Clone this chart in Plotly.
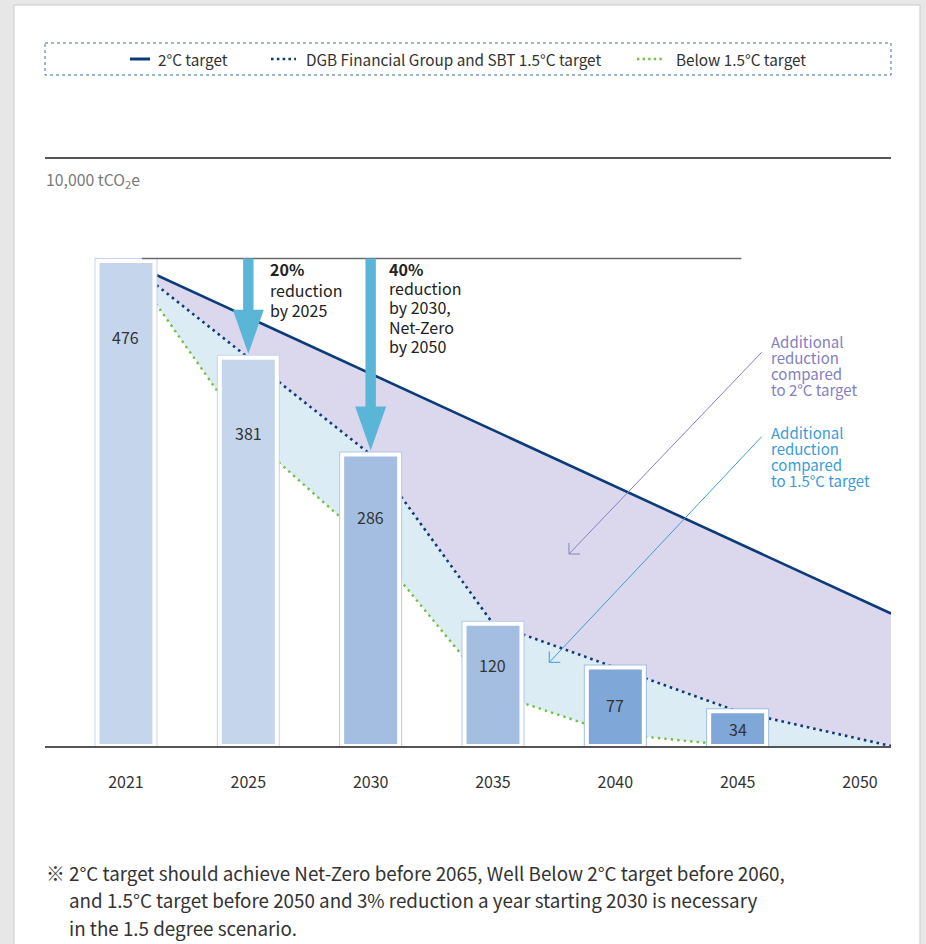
import plotly.graph_objects as go

# ---------------------------------------------------------------- data
YEARS = ["2021", "2025", "2030", "2035", "2040", "2045", "2050"]
EMISSIONS = [476, 381, 286, 120, 77, 34]          # DGB Financial Group path (10,000 tCO2e)
BAR_FILL = ["#c5d5ec", "#c5d5ec", "#a3bee1", "#a3bee1", "#7fa7d8", "#7fa7d8"]
BAR_RING = ["#c3d4ec", "#c3d4ec", "#b3c9e7", "#b3c9e7", "#a2bde3", "#a2bde3"]

TWO_DEG_POS = [0, 6.2536]                          # straight 2°C pathway
TWO_DEG = [476, 130]
DGB_POS = [0, 1, 2, 3, 4, 5, 6.2536]               # DGB & SBT 1.5°C pathway, net-zero at 2050
DGB = [476, 381, 286, 120, 77, 34, 0]
BELOW_POS = [0, 1, 2, 3, 4, 5]                     # below 1.5°C pathway
BELOW = [476, 305, 198, 52, 12, 0]

# ---------------------------------------------------------------- geometry / style
W, H = 926, 944
L, R, T, B = 45, 891, 159, 746                     # plot area in page pixels
X_RANGE = [-0.6621, 6.2536]
PX_PER_UNIT = 1.019
Y_RANGE = [0, (B - T) / PX_PER_UNIT]
FONT = "Noto Sans CJK KR"
NAVY = "#0d3b7a"
GREEN = "#74bf45"
ARROW = "#5bb5d7"
LAVENDER = "#dbd8ed"
ICE = "#dcecf5"


def px(x):
    return (x - L) / (R - L)


def py(y):
    return (B - y) / (B - T)


fig = go.Figure()

# scenario bands (lower boundary first, then fill up to each next line)
fig.add_trace(go.Scatter(x=BELOW_POS + [X_RANGE[1]], y=BELOW + [0], mode="lines",
                         line=dict(width=0), hoverinfo="skip", showlegend=False))
fig.add_trace(go.Scatter(x=DGB_POS, y=DGB, mode="lines", line=dict(width=0),
                         fill="tonexty", fillcolor=ICE, hoverinfo="skip", showlegend=False))
fig.add_trace(go.Scatter(x=TWO_DEG_POS, y=TWO_DEG, mode="lines", line=dict(width=0),
                         fill="tonexty", fillcolor=LAVENDER, hoverinfo="skip", showlegend=False))

# scenario lines
fig.add_trace(go.Scatter(x=TWO_DEG_POS, y=TWO_DEG, mode="lines", name="2°C target",
                         line=dict(color=NAVY, width=2.6), showlegend=False))
fig.add_trace(go.Scatter(x=DGB_POS, y=DGB, mode="lines",
                         name="DGB Financial Group and SBT 1.5°C target",
                         line=dict(color=NAVY, width=2.6, dash="2.6px,3.9px"), showlegend=False))
fig.add_trace(go.Scatter(x=BELOW_POS, y=BELOW, mode="lines", name="Below 1.5°C target",
                         line=dict(color=GREEN, width=2.4, dash="2.4px,4.1px"), showlegend=False))

# emission bars on an overlaid axis pair so they sit above the lines
idx = list(range(len(EMISSIONS)))
bar_w = 57 / ((R - L) / (X_RANGE[1] - X_RANGE[0]))
fig.add_trace(go.Bar(x=idx, y=EMISSIONS, width=bar_w, xaxis="x2", yaxis="y2",
                     marker=dict(color=BAR_RING, line=dict(color=BAR_RING, width=6)),
                     hoverinfo="skip", showlegend=False))
fig.add_trace(go.Bar(x=idx, y=EMISSIONS, width=bar_w, xaxis="x2", yaxis="y2",
                     marker=dict(color=BAR_FILL, line=dict(color="white", width=4)),
                     showlegend=False))

shapes = []
annotations = []

# card background
shapes.append(dict(type="rect", xref="paper", yref="paper", layer="below",
                   x0=px(14), x1=px(920), y0=py(5), y1=py(950),
                   fillcolor="white", line=dict(color="#c9c9c9", width=1)))

# legend frame and samples
shapes.append(dict(type="rect", xref="paper", yref="paper",
                   x0=px(45), x1=px(891), y0=py(43), y1=py(75),
                   line=dict(color="#3f6fb5", width=1, dash="dot")))
legend_items = [
    ("2°C target", 130, 150, dict(color=NAVY, width=3), 156),
    ("DGB Financial Group and SBT 1.5°C target", 271, 296,
     dict(color=NAVY, width=2.6, dash="2.6px,3.2px"), 304),
    ("Below 1.5°C target", 637, 664, dict(color=GREEN, width=2.4, dash="2.4px,3.2px"), 674),
]
for text, x0, x1, ln, tx in legend_items:
    shapes.append(dict(type="line", xref="paper", yref="paper",
                       x0=px(x0), x1=px(x1), y0=py(59), y1=py(59), line=ln))
    annotations.append(dict(xref="paper", yref="paper", x=px(tx), y=py(59), text=text,
                            showarrow=False, xanchor="left", yanchor="middle",
                            font=dict(family=FONT, size=15.3, color="#333333")))

# unit label
annotations.append(dict(xref="paper", yref="paper", x=px(44), y=py(180),
                        text="10,000 tCO<sub>2</sub>e", showarrow=False,
                        xanchor="left", yanchor="middle",
                        font=dict(family=FONT, size=15.8, color="#7a7a7a")))

# reference level at the 2021 emissions and target arrows
top_level = EMISSIONS[0] + 2.5 / PX_PER_UNIT
shapes.append(dict(type="line", xref="x", yref="y", x0=0.13, x1=5.03,
                   y0=top_level, y1=top_level, line=dict(color="#6b6b6b", width=1.5),
                   layer="above"))
for i in (1, 2):
    v = EMISSIONS[i]
    tip = v + 4 / PX_PER_UNIT
    base = v + 48 / PX_PER_UNIT
    path = (f"M 0,{tip} L -15.5,{base} L -5.2,{base} L -5.2,{top_level} "
            f"L 5.2,{top_level} L 5.2,{base} L 15.5,{base} Z")
    shapes.append(dict(type="path", xref="x", yref="y", xsizemode="pixel", xanchor=i,
                       path=path, fillcolor=ARROW, line=dict(width=0), layer="above"))

callouts = [
    (1, 20, ["<b>20%</b>", "reduction", "by 2025"], 20.7),
    (2, 16, ["<b>40%</b>", "reduction", "by 2030,", "Net-Zero", "by 2050"], 19.2),
]
for i, shift, lines, step in callouts:
    for k, line in enumerate(lines):
        annotations.append(dict(xref="x", yref="paper", x=i, xshift=shift,
                                y=py(269 + k * step), text=line, showarrow=False,
                                xanchor="left", yanchor="middle",
                                font=dict(family=FONT, size=16, color="#222222")))

# value labels inside the bars
label_drop = [76, 75, 62, 41, 37, 18]
for i, v in enumerate(EMISSIONS):
    annotations.append(dict(xref="x", yref="y", x=i, y=v, yshift=-label_drop[i],
                            text=str(v), showarrow=False, yanchor="middle",
                            font=dict(family=FONT, size=16, color="#333333")))

# "additional reduction" pointers
pointers = [
    (3.621, 188.4, 192.7, 201.7, "#8380c2", 341.7,
     ["Additional", "reduction", "compared", "to 2°C target"]),
    (3.460, 82.1, 212.4, 225.6, "#3b9cd9", 432.7,
     ["Additional", "reduction", "compared", "to 1.5°C target"]),
]
for tx, ty, dx, dy, col, ty0, lines in pointers:
    shapes.append(dict(type="path", xref="x", yref="y", xsizemode="pixel",
                       ysizemode="pixel", xanchor=tx, yanchor=ty,
                       path=f"M {dx},{dy} L 0,0 M 0,11 L 0,0 L 11,0",
                       line=dict(color=col, width=1)))
    for k, line in enumerate(lines):
        annotations.append(dict(xref="paper", yref="paper", x=px(768.5), y=py(ty0 + k * 15.8),
                                text=line, showarrow=False, xanchor="left",
                                yanchor="middle",
                                font=dict(family=FONT, size=15, color=col)))

# footnote
foot = [
    (44, "※ 2°C target should achieve Net-Zero before 2065, Well Below 2°C target before 2060,"),
    (67, "and 1.5°C target before 2050 and 3% reduction a year starting 2030 is necessary"),
    (67, "in the 1.5 degree scenario."),
]
for k, (fx, line) in enumerate(foot):
    annotations.append(dict(xref="paper", yref="paper", x=px(fx), y=py(872 + k * 27.5),
                            text=line, showarrow=False, xanchor="left", yanchor="middle",
                            font=dict(family=FONT, size=18.8, color="#333333")))

axis_hidden = dict(visible=False, fixedrange=True)
fig.update_layout(
    width=W, height=H,
    margin=dict(l=L, r=W - R, t=T, b=H - B, pad=0),
    paper_bgcolor="#e7e7e8",
    plot_bgcolor="rgba(0,0,0,0)",
    barmode="overlay",
    showlegend=False,
    font=dict(family=FONT),
    xaxis=dict(range=X_RANGE, tickmode="array", tickvals=list(range(len(YEARS))),
               ticktext=YEARS, ticks="outside", ticklen=21, tickcolor="rgba(0,0,0,0)",
               showgrid=False, zeroline=False, showline=True, linecolor="#555555",
               linewidth=2, mirror=True,
               tickfont=dict(family=FONT, size=16, color="#333333")),
    yaxis=dict(range=Y_RANGE, showgrid=False, zeroline=False, showticklabels=False,
               ticks=""),
    xaxis2=dict(range=X_RANGE, overlaying="x", **axis_hidden),
    yaxis2=dict(range=Y_RANGE, overlaying="y", **axis_hidden),
    shapes=shapes,
    annotations=annotations,
)

fig.write_html("out.html")
